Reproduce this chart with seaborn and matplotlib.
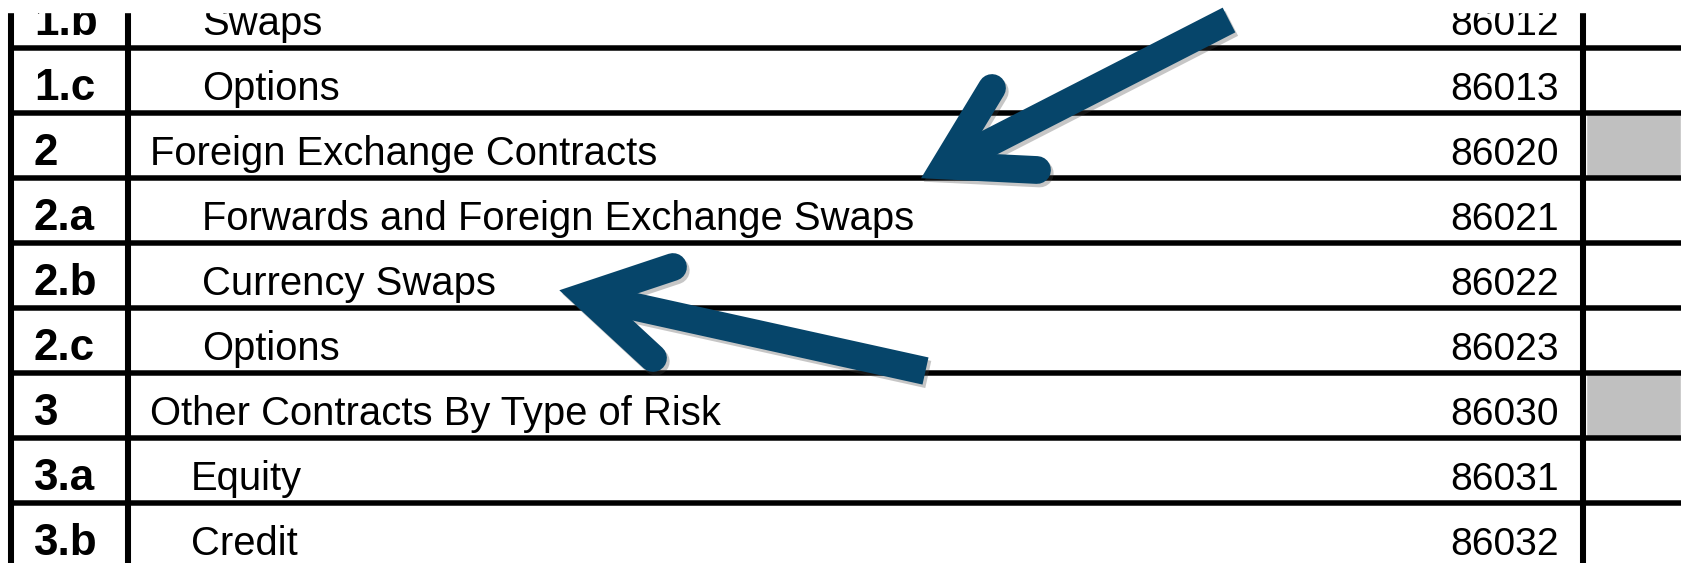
import matplotlib.pyplot as plt
import matplotlib.patheffects as pe
import seaborn as sns

# Table content (top row is partly cut off in the reference)
row_ids = ["1.b", "1.c", "2", "2.a", "2.b", "2.c", "3", "3.a", "3.b"]
row_labels = ["Swaps", "Options", "Foreign Exchange Contracts",
              "Forwards and Foreign Exchange Swaps", "Currency Swaps", "Options",
              "Other Contracts By Type of Risk", "Equity", "Credit"]
row_codes = [86012, 86013, 86020, 86021, 86022, 86023, 86030, 86031, 86032]
shaded_rows = ["2", "3"]

sns.set_theme(style="white")
plt.rcParams['font.family'] = ['Liberation Sans', 'DejaVu Sans']

W, H = 1683, 563
fig = plt.figure(figsize=(W / 100, H / 100), dpi=100)
ax = fig.add_axes([0, 0, 1, 1])
ax.set_xlim(0, W)
ax.set_ylim(H, 0)
ax.axis('off')

# layout in pixels
row_h = 65
first_line = 48
col_x = [11, 128, 1583]
grid_lw = 5.5 * 0.72
sub_indent = {"1": 52, "2": 52, "3": 41}

n = len(row_ids)
line_y = [first_line + row_h * i for i in range(n - 1)]
row_mid = [first_line + row_h * i - row_h / 2 for i in range(n)]
baseline = [first_line + row_h * i - 13 for i in range(n)]

# grey cells for the section rows
shade = [r for r in range(n) if row_ids[r] in shaded_rows]
ax.barh([row_mid[r] for r in shade], width=95, left=1586, height=row_h,
        color="#c0c0c0", zorder=1)

ax.hlines(line_y, 8, 1681, color="black", lw=grid_lw, zorder=2)
ax.vlines(col_x, 0, H, color="black", lw=grid_lw * 1.1, zorder=2)

for i in range(n):
    rid = row_ids[i]
    ax.text(34, baseline[i], rid, fontsize=44 * 0.72, fontweight='bold',
            va='baseline', ha='left', color='black', zorder=3)
    x = 150 + (sub_indent[rid[0]] if '.' in rid else 0)
    ax.text(x, baseline[i], row_labels[i], fontsize=40 * 0.72,
            va='baseline', ha='left', color='black', zorder=3)
    ax.text(1505, baseline[i], str(row_codes[i]), fontsize=39 * 0.72,
            va='baseline', ha='center', color='black', zorder=3)

# the screenshot is cropped just above the first row
ax.axhspan(0, 12, color='white', zorder=4)

# call-out arrows
arrow_col = "#06456a"
arrow_lw = 20


def draw_arrow(tail, joint, arm_a, arm_b):
    shadow = [pe.SimpleLineShadow(offset=(2, -2.5), shadow_color='#444444', alpha=0.3)]
    shaft = ([tail[0], joint[0]], [tail[1], joint[1]])
    head = ([arm_a[0], joint[0], arm_b[0]], [arm_a[1], joint[1], arm_b[1]])
    for z, eff in [(5, shadow), (6, None)]:
        ax.plot(*shaft, color=arrow_col, lw=arrow_lw, solid_capstyle='butt',
                path_effects=eff, zorder=z)
        ax.plot(*head, color=arrow_col, lw=arrow_lw, solid_capstyle='round',
                solid_joinstyle='miter', path_effects=eff, zorder=z)


draw_arrow((1229, 20), (945, 165.5), (992, 88), (1037, 170))
draw_arrow((925.5, 371), (586, 296), (673, 267), (653, 358))

fig.savefig('out.png', dpi=100)
